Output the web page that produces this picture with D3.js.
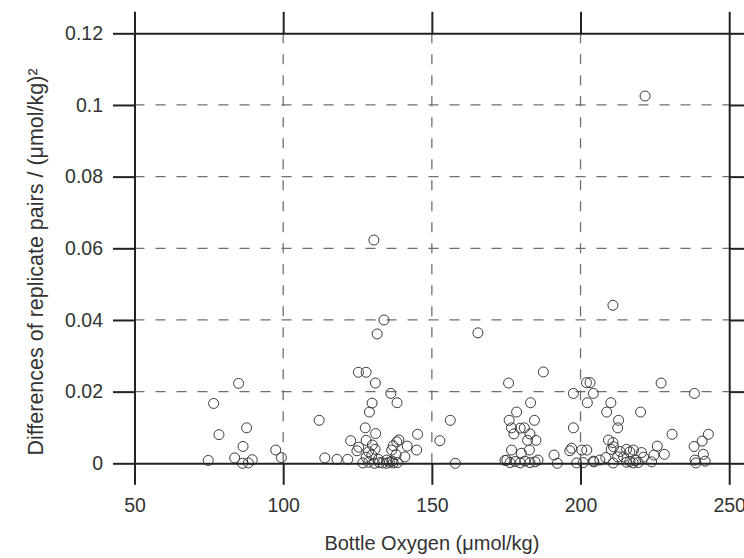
<!DOCTYPE html>
<html>
<head>
<meta charset="utf-8">
<script src="https://d3js.org/d3.v7.min.js"></script>
<style>
body{margin:0;background:#fff;}
svg{display:block;font-family:"Liberation Sans",Arial,sans-serif;}
</style>
</head>
<body>
<div id="chart"></div>
<script>
var W = 744, H = 558;
// x values: bottle oxygen (umol/kg)
var oxygen = [
	221.7,130.5,133.9,131.6,165.5,210.9,
	85.0,76.6,78.4,87.7,86.5,74.8,83.7,86.3,88.3,89.6,97.5,99.4,
	125.3,127.9,131.0,136.2,138.3,129.9,129.0,112.1,127.6,131.1,122.7,145.2,152.7,138.9,138.2,141.7,144.9,
	127.9,125.4,130.0,130.9,124.8,128.7,136.5,137.0,138.0,140.9,114.0,118.1,121.7,
	126.8,128.7,130.7,132.4,133.4,134.7,135.7,137.0,138.4,
	127.9,129.8,132.0,134.8,136.6,156.2,157.9,
	187.5,175.8,183.2,178.5,176.0,184.5,176.8,179.7,181.1,177.6,183.0,182.2,185.0,176.8,180.1,182.8,191.1,192.2,
	174.6,176.3,178.0,179.7,181.3,183.0,184.7,185.7,175.2,
	197.6,197.6,197.0,196.4,198.7,202.0,203.2,202.3,204.3,210.2,208.8,220.2,227.1,238.3,212.8,212.5,
	230.8,243.0,240.9,238.2,241.3,238.5,241.9,238.8,225.8,228.2,224.7,
	209.4,210.9,211.1,210.3,215.5,217.8,200.4,202.1,208.5,212.5,214.5,221.2,
	200.9,204.5,211.0,215.5,216.6,217.7,219.4,223.9,204.3,213.3,206.5,218.6,220.5,216.6
];
// y values: squared differences of replicate pairs
var diffs = [
	0.1025,0.0623,0.0400,0.0361,0.0364,0.0441,
	0.0223,0.0167,0.0080,0.0099,0.0047,0.0008,0.0015,0.0000,0.0001,0.0010,0.0037,0.0016,
	0.0254,0.0254,0.0224,0.0195,0.0169,0.0168,0.0143,0.0120,0.0099,0.0083,0.0063,0.0081,0.0063,0.0065,0.0060,0.0048,0.0037,
	0.0064,0.0045,0.0051,0.0039,0.0035,0.0032,0.0037,0.0049,0.0024,0.0018,0.0015,0.0011,0.0011,
	0.0001,0.0003,0.0000,0.0002,0.0001,0.0000,0.0003,0.0001,0.0002,
	0.0017,0.0023,0.0011,0.0009,0.0006,0.0120,0.0000,
	0.0255,0.0224,0.0169,0.0143,0.0120,0.0120,0.0099,0.0098,0.0099,0.0082,0.0082,0.0064,0.0064,0.0037,0.0028,0.0037,0.0023,0.0000,
	0.0008,0.0002,0.0005,0.0001,0.0006,0.0002,0.0004,0.0009,0.0009,
	0.0195,0.0099,0.0042,0.0035,0.0001,0.0225,0.0225,0.0169,0.0195,0.0169,0.0143,0.0143,0.0224,0.0195,0.0120,0.0099,
	0.0081,0.0081,0.0062,0.0047,0.0025,0.0009,0.0006,0.0001,0.0048,0.0025,0.0023,
	0.0065,0.0058,0.0046,0.0039,0.0039,0.0037,0.0037,0.0037,0.0016,0.0018,0.0018,0.0017,
	0.0002,0.0004,0.0001,0.0003,0.0005,0.0001,0.0002,0.0004,0.0006,0.0033,0.0009,0.0008,0.0030,0.0032
];
var xTicks = [50,100,150,200,250];
var yTicks = [0,0.02,0.04,0.06,0.08,0.1,0.12];
var yTickLabels = ["0","0.02","0.04","0.06","0.08","0.1","0.12"];
var xTitle = "Bottle Oxygen (\u03bcmol/kg)";
var yTitle = "Differences of replicate pairs / (\u03bcmol/kg)\u00b2";

var x0 = 134.5, x1 = 729.2, y0 = 463.3, y1 = 33.3;
var tick = 21.5;
var lineColor = "#222";
var gridColor = "#6f6f6f";

var x = d3.scaleLinear().domain([50,250]).range([x0,x1]);
var y = d3.scaleLinear().domain([0,0.12]).range([y0,y1]);

var svg = d3.select("#chart").append("svg")
	.attr("width",W).attr("height",H);

// dashed grid
svg.append("g").selectAll("line")
	.data(yTicks.slice(1,-1)).enter().append("line")
	.attr("x1",x0).attr("x2",x1)
	.attr("y1",function(d){return y(d);}).attr("y2",function(d){return y(d);})
	.attr("stroke",gridColor).attr("stroke-width",1.3).attr("stroke-dasharray","10,11");
svg.append("g").selectAll("line")
	.data(xTicks.slice(1,-1)).enter().append("line")
	.attr("y1",y1).attr("y2",y0)
	.attr("x1",function(d){return x(d);}).attr("x2",function(d){return x(d);})
	.attr("stroke",gridColor).attr("stroke-width",1.3).attr("stroke-dasharray","10,11");

// points
svg.append("g").selectAll("circle")
	.data(oxygen).enter().append("circle")
	.attr("cx",function(d){return x(d);})
	.attr("cy",function(d,i){return y(diffs[i]);})
	.attr("r",5)
	.attr("fill","none")
	.attr("stroke","#3a3a3a")
	.attr("stroke-width",1);

// frame with outward ticks on all four sides
function styleAxis(g){
	g.selectAll("path,line").attr("stroke",lineColor).attr("stroke-width",2);
	g.selectAll("text").attr("fill","#333").style("font-size","19.5px")
		.style("font-family","'Liberation Sans',Arial,sans-serif");
}
svg.append("g").attr("transform","translate("+x0+",0)")
	.call(d3.axisLeft(y).tickValues(yTicks).tickSize(tick).tickSizeOuter(0).tickPadding(10)
		.tickFormat(function(d,i){return yTickLabels[i];}))
	.call(styleAxis);
svg.append("g").attr("transform","translate("+x1+",0)")
	.call(d3.axisRight(y).tickValues(yTicks).tickSize(tick).tickSizeOuter(0).tickFormat(""))
	.call(styleAxis);
svg.append("g").attr("transform","translate(0,"+y0+")")
	.call(d3.axisBottom(x).tickValues(xTicks).tickSize(tick).tickSizeOuter(0).tickPadding(13))
	.call(styleAxis);
svg.append("g").attr("transform","translate(0,"+y1+")")
	.call(d3.axisTop(x).tickValues(xTicks).tickSize(tick).tickSizeOuter(0).tickFormat(""))
	.call(styleAxis);

// axis titles
svg.append("text")
	.attr("x",(x0+x1)/2).attr("y",550)
	.attr("text-anchor","middle")
	.attr("fill","#333")
	.style("font-size","20px")
	.text(xTitle);
svg.append("text")
	.attr("transform","translate(43,262) rotate(-90)")
	.attr("text-anchor","middle")
	.attr("fill","#333")
	.style("font-size","21.5px")
	.text(yTitle);
</script>
</body>
</html>
